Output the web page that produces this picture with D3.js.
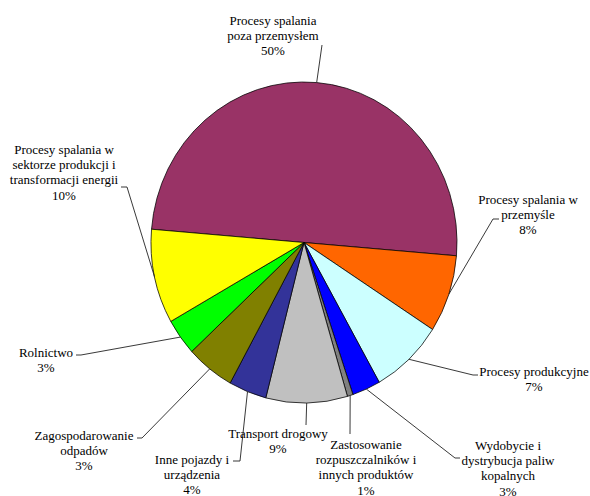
<!DOCTYPE html>
<html>
<head>
<meta charset="utf-8">
<script src="https://cdn.jsdelivr.net/npm/d3@7"></script>
<style>
  body { margin: 0; background: #fff; }
  svg { display: block; }
</style>
</head>
<body>
<svg id="chart" width="590" height="496"></svg>
<script>
//----------------data--------------//
// categories in drawing order (clockwise, starting with the big slice)
const categories = [
  "Procesy spalania poza przemysłem",
  "Procesy spalania w przemyśle",
  "Procesy produkcyjne",
  "Wydobycie i dystrybucja paliw kopalnych",
  "Zastosowanie rozpuszczalników i innych produktów",
  "Transport drogowy",
  "Inne pojazdy i urządzenia",
  "Zagospodarowanie odpadów",
  "Rolnictwo",
  "Procesy spalania w sektorze produkcji i transformacji energii"
];
// slice shares (%)
const shares = [50.0, 7.8, 7.7, 3.0, 0.6, 8.6, 4.0, 5.1, 3.7, 9.5];
// percentages printed on the labels
const pctLabels = ["50%", "8%", "7%", "3%", "1%", "9%", "4%", "3%", "3%", "10%"];
// label text broken into lines
const labelLines = [
  ["Procesy spalania", "poza przemysłem"],
  ["Procesy spalania w", "przemyśle"],
  ["Procesy produkcyjne"],
  ["Wydobycie i", "dystrybucja paliw", "kopalnych"],
  ["Zastosowanie", "rozpuszczalników i", "innych produktów"],
  ["Transport drogowy"],
  ["Inne pojazdy i", "urządzenia"],
  ["Zagospodarowanie", "odpadów"],
  ["Rolnictwo"],
  ["Procesy spalania w", "sektorze produkcji i", "transformacji energii"]
];
const colors = ["#993366", "#FF6600", "#CCFFFF", "#0000FF", "#808080",
                "#C0C0C0", "#333399", "#808000", "#00FF00", "#FFFF00"];

//----------------layout--------------//
const svg = d3.select("#chart");
const cx = 304, cy = 242.5;
const radius = 153;
const squash = 160.5 / 153; // the pie is a bit taller than wide
const lineStep = 15.2;

// label boxes: centre x, first line centre y, leader anchor points (label side)
const labelLayout = [
  { x: 273, y: 21,  lead: [[322, 45]] },
  { x: 528, y: 200, lead: [[499, 219], [493, 219]] },
  { x: 534, y: 372, lead: [[478, 375], [473, 375]] },
  { x: 508, y: 446, lead: [[460, 458], [455, 458]] },
  { x: 366, y: 445, lead: [[350, 434]] },
  { x: 278, y: 434, lead: [[306, 425]] },
  { x: 192, y: 460, lead: [[233, 461], [240, 461]] },
  { x: 84,  y: 436, lead: [[137, 438], [142, 438]] },
  { x: 46,  y: 353, lead: [[76, 355], [81, 355]] },
  { x: 64,  y: 150, lead: [[121, 187], [127, 187]] }
];

const startAngle = -85.25 * Math.PI / 180;
const pie = d3.pie()
  .sort(null)
  .value(d => d)
  .startAngle(startAngle)
  .endAngle(startAngle + 2 * Math.PI);
const arcs = pie(shares);
const arc = d3.arc().innerRadius(0).outerRadius(radius);

//----------------slices--------------//
const pieGroup = svg.append("g")
  .attr("transform", `translate(${cx}, ${cy}) scale(1, ${squash})`);

pieGroup.selectAll("path")
  .data(arcs)
  .join("path")
  .attr("d", arc)
  .attr("fill", (d, i) => colors[i])
  .attr("stroke", "#000")
  .attr("stroke-width", 0.75)
  .attr("vector-effect", "non-scaling-stroke");

//----------------leader lines--------------//
// point on the pie rim at the middle of each slice
function rimPoint(d) {
  const a = (d.startAngle + d.endAngle) / 2;
  return [cx + radius * Math.sin(a), cy - radius * squash * Math.cos(a)];
}

const line = d3.line();
svg.append("g").selectAll("path")
  .data(arcs)
  .join("path")
  .attr("d", (d, i) => line(labelLayout[i].lead.concat([rimPoint(d)])))
  .attr("fill", "none")
  .attr("stroke", "#222")
  .attr("stroke-width", 0.9);

//----------------labels--------------//
const labelGroup = svg.append("g");
categories.forEach((c, i) => {
  const pos = labelLayout[i];
  const lines = labelLines[i].concat([pctLabels[i]]);
  const t = labelGroup.append("text")
    .attr("font-family", "Liberation Serif")
    .attr("font-size", 13)
    .attr("fill", "#000")
    .attr("text-anchor", "middle");
  lines.forEach((s, j) => {
    t.append("tspan")
      .attr("x", pos.x)
      .attr("y", pos.y + j * lineStep + 4)
      .text(s);
  });
});
</script>
</body>
</html>
